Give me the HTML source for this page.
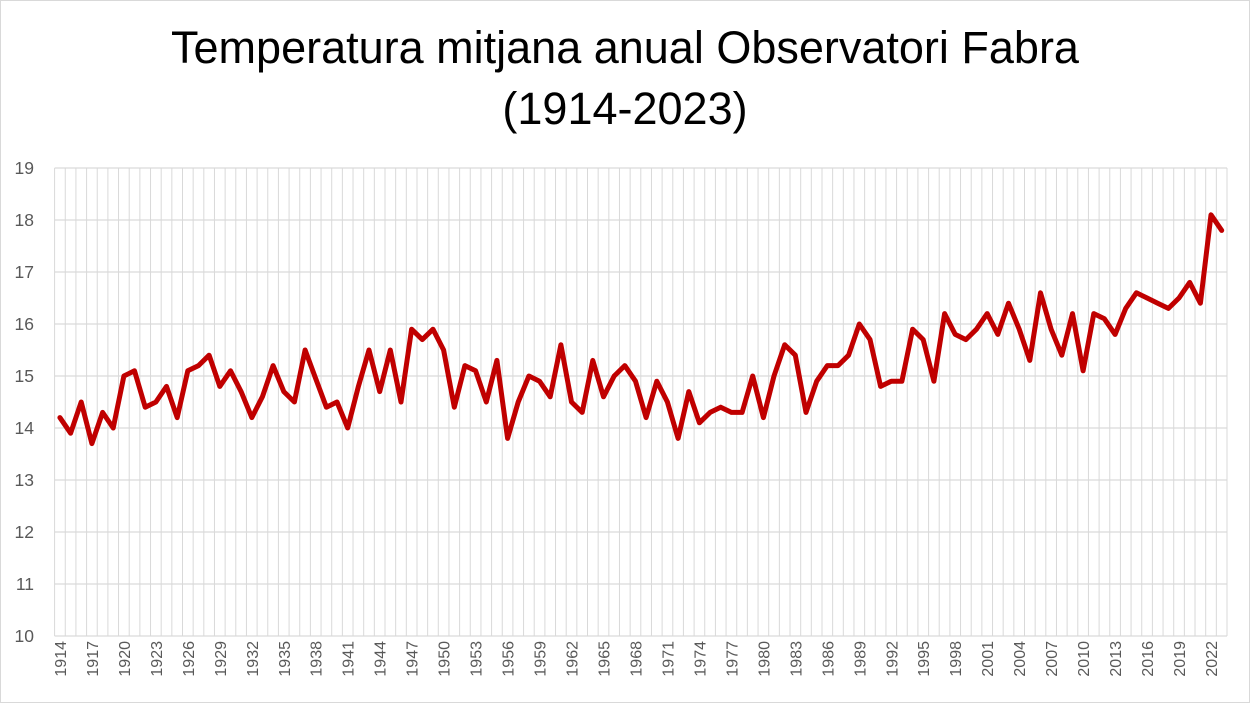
<!DOCTYPE html>
<html><head><meta charset="utf-8"><style>
html,body{margin:0;padding:0;background:#fff;}
svg{display:block;font-family:"Liberation Sans",sans-serif;}
</style></head><body>
<svg id="chart" width="1250" height="703" viewBox="0 0 1250 703">
<rect x="0.5" y="0.5" width="1249" height="702" fill="#fff" stroke="#d9d9d9"/>
<text x="625" y="63" text-anchor="middle" font-size="45" fill="#000">Temperatura mitjana anual Observatori Fabra</text>
<text x="625" y="124" text-anchor="middle" font-size="45" fill="#000">(1914-2023)</text>
<g id="grid"></g><g id="yaxis"></g><g id="xaxis"></g><g id="series"></g>
</svg>
<script>
const years = [];
for (let y = 1914; y <= 2023; y++) years.push(y);
const temps = [14.2,13.9,14.5,13.7,14.3,14.0,15.0,15.1,14.4,14.5,14.8,14.2,15.1,15.2,15.4,14.8,15.1,14.7,14.2,14.6,
15.2,14.7,14.5,15.5,14.95,14.4,14.5,14.0,14.8,15.5,14.7,15.5,14.5,15.9,15.7,15.9,15.5,14.4,15.2,15.1,
14.5,15.3,13.8,14.5,15.0,14.9,14.6,15.6,14.5,14.3,15.3,14.6,15.0,15.2,14.9,14.2,14.9,14.5,13.8,14.7,
14.1,14.3,14.4,14.3,14.3,15.0,14.2,15.0,15.6,15.4,14.3,14.9,15.2,15.2,15.4,16.0,15.7,14.8,14.9,14.9,
15.9,15.7,14.9,16.2,15.8,15.7,15.9,16.2,15.8,16.4,15.9,15.3,16.6,15.9,15.4,16.2,15.1,16.2,16.1,15.8,
16.3,16.6,16.5,16.4,16.3,16.5,16.8,16.4,18.1,17.8];
const yTicks = [10,11,12,13,14,15,16,17,18,19];

const NS = "http://www.w3.org/2000/svg";
const L = 54.6, R = 1227, T = 168, B = 636, yMin = 10, yMax = 19;
const step = (R - L) / years.length;
const xc = i => L + step * (i + 0.5);
const yv = v => B - (v - yMin) / (yMax - yMin) * (B - T);
function mk(tag, attrs, parent) { const e = document.createElementNS(NS, tag); for (const k in attrs) e.setAttribute(k, attrs[k]); parent.appendChild(e); return e; }

const grid = document.getElementById("grid");
for (let i = 0; i <= years.length; i++) {
  const x = L + step * i;
  const ln = mk("line", {x1: x, x2: x, y1: T, y2: B, stroke: "#d9d9d9", "stroke-width": 1}, grid);
  
  
}
const ya = document.getElementById("yaxis");
yTicks.forEach(v => {
  const ln = mk("line", {x1: L, x2: R, y1: yv(v), y2: yv(v), stroke: "#d9d9d9", "stroke-width": 1.3}, grid);
  
  
  const t = mk("text", {x: 34, y: yv(v) + 6, "text-anchor": "end", "font-size": 17.5, fill: "#595959"}, ya);
  t.textContent = v;
  
  
});
const xa = document.getElementById("xaxis");
years.forEach((yr, i) => {
  if ((yr - 1914) % 3 !== 0) return;
  const x = xc(i) + 6, y = B + 5;
  const t = mk("text", {x: x, y: y, "text-anchor": "end", "font-size": 16, fill: "#595959", transform: `rotate(-90 ${x} ${y})`}, xa);
  t.textContent = yr;
  
  
});
const pts = temps.map((v, i) => xc(i).toFixed(1) + "," + yv(v).toFixed(1)).join(" ");
const pl = mk("polyline", {points: pts, fill: "none", stroke: "#c00000", "stroke-width": 5, "stroke-linejoin": "round", "stroke-linecap": "round"}, document.getElementById("series"));


</script>
</body></html>
